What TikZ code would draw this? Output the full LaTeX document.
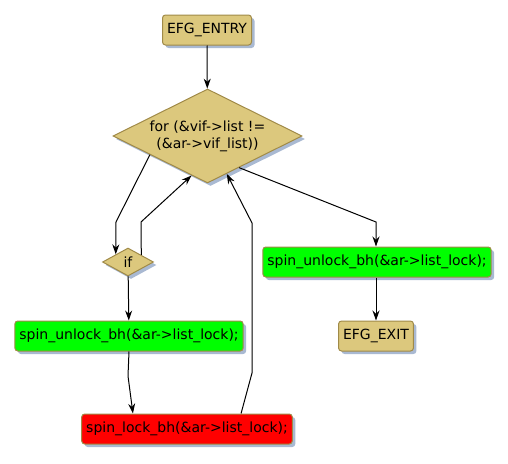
\documentclass[tikz,border=0pt]{standalone}
\usepackage{fontspec}
\setmainfont{DejaVu Sans}
\usetikzlibrary{arrows.meta,positioning,shapes.geometric,shadows}
\usepackage{xcolor}
\definecolor{efgtan}{HTML}{DCC87D}
\definecolor{efgedge}{HTML}{A08A48}
\definecolor{unlockgreen}{HTML}{00FF00}
\definecolor{lockred}{HTML}{FF0000}
\definecolor{shadowblue}{HTML}{A9B9D2}

\begin{document}
\begin{tikzpicture}[x=1pt, y=-1pt,
  every node/.style={font=\fontsize{14}{17}\selectfont},
  stmt/.style={draw=efgedge, line width=1pt, rectangle, rounded corners=3pt, minimum height=30pt,
    inner xsep=4.5pt, inner ysep=0pt,
    drop shadow={shadow xshift=3pt, shadow yshift=-3pt, fill=shadowblue, opacity=1}},
  decision/.style={draw=efgedge, line width=1pt, diamond, aspect=2, inner sep=0pt, fill=efgtan, align=center,
    drop shadow={shadow xshift=3pt, shadow yshift=-3pt, fill=shadowblue, opacity=1}},
  flow/.style={line width=1pt, -{Stealth[length=10pt, width=7pt]}}]
  \useasboundingbox (0,0) rectangle (508,463);

  \node[stmt, fill=efgtan] (entry) at (207,30) {EFG\_ENTRY};
  \node[decision, minimum width=189pt, minimum height=94pt] (loop) at (207.5,136)
    {for (\&vif->list !=\\(\&ar->vif\_list))};
  \node[decision, minimum width=51pt, minimum height=28pt] (cond) at (128,262) {if};
  \node[stmt, fill=unlockgreen] (unlockexit) at (377,262) {spin\_unlock\_bh(\&ar->list\_lock);};
  \node[stmt, fill=efgtan] (exit) at (376,336) {EFG\_EXIT};
  \node[stmt, fill=unlockgreen] (unlockbody) at (129,336) {spin\_unlock\_bh(\&ar->list\_lock);};
  \node[stmt, fill=lockred] (lock) at (187,429) {spin\_lock\_bh(\&ar->list\_lock);};

  \draw[flow] (entry) -- (loop);
  \draw[flow] (loop.198.7) -- (116,222) -- (cond.148);
  \draw[flow] (cond.28) -- (141,222) -- (loop.248);
  \draw[flow] (cond) -- (unlockbody);
  \draw[flow] (unlockbody.south) -- (128,376) -- (lock.164);
  \draw[flow] (lock.16) -- (252,373) -- (252,223) -- (loop.297);
  \draw[flow] (loop.-45) -- (376,222) -- (unlockexit.north -| 376,0);
  \draw[flow] (unlockexit.south -| 376,0) -- (exit);
\end{tikzpicture}
\end{document}
